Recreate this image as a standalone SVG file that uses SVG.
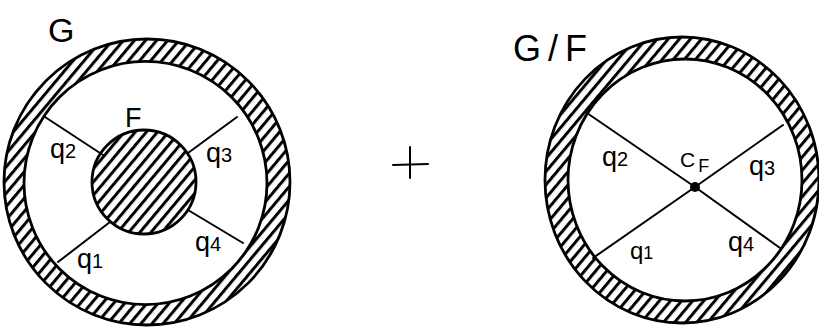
<svg xmlns="http://www.w3.org/2000/svg" width="819" height="327" viewBox="0 0 819 327">
<style>
.lbl{font-family:"Liberation Sans",Arial,sans-serif;fill:#000}
.ring{fill:url(#hatch);fill-rule:evenodd;stroke:#000;stroke-width:2.8}
.conn{stroke:#000;stroke-width:2;fill:none;stroke-linecap:round}
</style>
<defs>
<pattern id="hatch" patternUnits="userSpaceOnUse" width="8.5" height="10" patternTransform="rotate(40)">
<rect x="0" y="0" width="3" height="10" fill="#000"/>
</pattern>
</defs>
<rect width="819" height="327" fill="#fff"/>
<g id="left-G">
<path class="ring" d="M4 182 A143 143 0 1 0 290 182 A143 143 0 1 0 4 182 Z M24 183 A121.5 121.5 0 1 0 267 183 A121.5 121.5 0 1 0 24 183 Z"/>
<text class="lbl" x="48" y="42" font-size="34">G</text>
</g>
<g id="left-F">
<circle cx="144" cy="182" r="52" fill="url(#hatch)" stroke="#000" stroke-width="2.8"/>
<text class="lbl" x="125" y="127" font-size="27">F</text>
</g>
<g id="connectors">
<line class="conn" x1="45" y1="117" x2="103" y2="155"/>
<line class="conn" x1="188" y1="153" x2="237" y2="117"/>
<line class="conn" x1="58" y1="262" x2="110" y2="222"/>
<line class="conn" x1="188" y1="210" x2="243" y2="243"/>
<line class="conn" x1="587" y1="113" x2="695" y2="187"/>
<line class="conn" x1="695" y1="187" x2="783" y2="125"/>
<line class="conn" x1="593" y1="258" x2="695" y2="187"/>
<line class="conn" x1="695" y1="187" x2="780" y2="248"/>
</g>
<g id="left-labels">
<text class="lbl" x="50" y="158" font-size="27">q<tspan font-size="20">2</tspan></text>
<text class="lbl" x="206" y="162" font-size="27">q<tspan font-size="20">3</tspan></text>
<text class="lbl" x="77" y="268" font-size="27">q<tspan font-size="20">1</tspan></text>
<text class="lbl" x="195" y="251" font-size="27">q<tspan font-size="20">4</tspan></text>
</g>
<g id="plus">
<line class="conn" x1="393" y1="165" x2="428" y2="164"/>
<line class="conn" x1="410" y1="147" x2="410" y2="178"/>
</g>
<g id="right-GF">
<path class="ring" d="M545 180 A137 143 0 1 0 819 180 A137 143 0 1 0 545 180 Z M568 180 A117 121 0 1 0 802 180 A117 121 0 1 0 568 180 Z"/>
<text class="lbl" x="513" y="61" font-size="36" textLength="74" lengthAdjust="spacing">G/F</text>
</g>
<g id="right-CF">
<circle cx="695" cy="187" r="5" fill="#000"/>
<text class="lbl" x="680" y="167" font-size="21">C<tspan dx="3" dy="5" font-size="18">F</tspan></text>
</g>
<g id="right-labels">
<text class="lbl" x="602" y="166" font-size="27">q<tspan font-size="20">2</tspan></text>
<text class="lbl" x="749" y="175" font-size="27">q<tspan font-size="20">3</tspan></text>
<text class="lbl" x="630" y="259" font-size="24">q<tspan font-size="18">1</tspan></text>
<text class="lbl" x="728" y="251" font-size="27">q<tspan font-size="20">4</tspan></text>
</g>
</svg>
